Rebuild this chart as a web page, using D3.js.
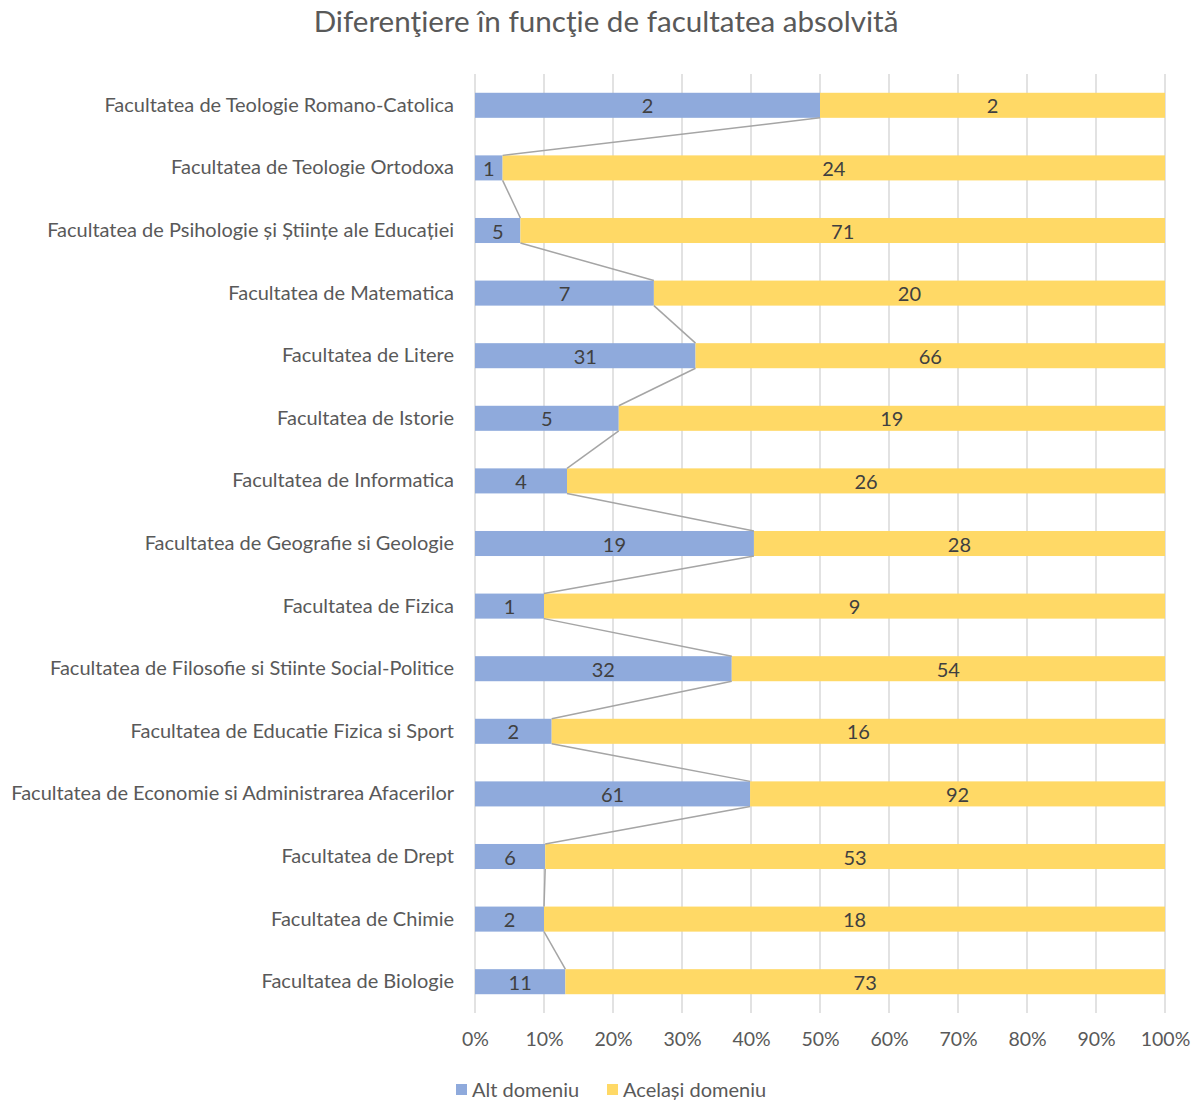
<!DOCTYPE html>
<html><head><meta charset="utf-8">
<script src="https://cdn.jsdelivr.net/npm/d3@7"></script>
<style>body{margin:0;background:#fff;} svg{display:block;}</style>
</head><body>
<svg id="chart" width="1196" height="1104"></svg>
<script>
const categories = [
  "Facultatea de Teologie Romano-Catolica",
  "Facultatea de Teologie Ortodoxa",
  "Facultatea de Psihologie și Științe ale Educației",
  "Facultatea de Matematica",
  "Facultatea de Litere",
  "Facultatea de Istorie",
  "Facultatea de Informatica",
  "Facultatea de Geografie si Geologie",
  "Facultatea de Fizica",
  "Facultatea de Filosofie si Stiinte Social-Politice",
  "Facultatea de Educatie Fizica si Sport",
  "Facultatea de Economie si Administrarea Afacerilor",
  "Facultatea de Drept",
  "Facultatea de Chimie",
  "Facultatea de Biologie"
];
const altDomeniu =     [2, 1, 5, 7, 31, 5, 4, 19, 1, 32, 2, 61, 6, 2, 11];
const acelasiDomeniu = [2, 24, 71, 20, 66, 19, 26, 28, 9, 54, 16, 92, 53, 18, 73];
const seriesNames = ["Alt domeniu", "Același domeniu"];
const tickValues = [0, 0.1, 0.2, 0.3, 0.4, 0.5, 0.6, 0.7, 0.8, 0.9, 1];
const title = "Diferenţiere în funcţie de facultatea absolvită";

const colors = ["#8faadc", "#ffd966"];
const font = "Lato, sans-serif";
const fs = 20;
const svg = d3.select("#chart");
const W = 1196, H = 1104;
const m = {left: 475, right: 31, top: 74, bottom: 91};

const x = d3.scaleLinear().domain([0, 1]).range([m.left, W - m.right]);
const y = d3.scaleBand().domain(categories).range([m.top, H - m.bottom]).paddingInner(0.6).paddingOuter(0.3);

const rows = categories.map((c, i) => {
  const tot = altDomeniu[i] + acelasiDomeniu[i];
  return {cat: c, a: altDomeniu[i], b: acelasiDomeniu[i], pa: altDomeniu[i] / tot};
});

// gridlines
svg.append("g").selectAll("line").data(tickValues).join("line")
  .attr("x1", d => x(d)).attr("x2", d => x(d))
  .attr("y1", m.top).attr("y2", H - m.bottom)
  .attr("stroke", "#d9d9d9").attr("stroke-width", 1.5);

// bars
const g = svg.append("g");
g.selectAll("rect.a").data(rows).join("rect")
  .attr("x", x(0)).attr("y", d => y(d.cat))
  .attr("width", d => x(d.pa) - x(0)).attr("height", y.bandwidth())
  .attr("fill", colors[0]);
g.selectAll("rect.b").data(rows).join("rect")
  .attr("x", d => x(d.pa)).attr("y", d => y(d.cat))
  .attr("width", d => x(1) - x(d.pa)).attr("height", y.bandwidth())
  .attr("fill", colors[1]);

// series lines
const segs = rows.slice(0, -1).map((d, i) => [d, rows[i + 1]]);
svg.append("g").selectAll("line").data(segs).join("line")
  .attr("x1", d => x(d[0].pa)).attr("y1", d => y(d[0].cat) + y.bandwidth())
  .attr("x2", d => x(d[1].pa)).attr("y2", d => y(d[1].cat))
  .attr("stroke", "#a5a5a5").attr("stroke-width", 1.5);

// data labels
const lab = svg.append("g").attr("font-family", font).attr("font-size", fs).attr("fill", "#404040")
  .attr("text-anchor", "middle").attr("dominant-baseline", "central");
lab.selectAll("text.a").data(rows).join("text")
  .attr("x", d => (x(0) + x(d.pa)) / 2).attr("y", d => y(d.cat) + y.bandwidth() / 2)
  .text(d => d.a);
lab.selectAll("text.b").data(rows).join("text")
  .attr("x", d => (x(d.pa) + x(1)) / 2).attr("y", d => y(d.cat) + y.bandwidth() / 2)
  .text(d => d.b);

// y axis labels
const yAxis = d3.axisLeft(y).tickSize(0).tickPadding(21);
const ya = svg.append("g").attr("transform", `translate(${m.left},0)`).call(yAxis);
ya.select(".domain").remove();
ya.selectAll("text").attr("font-family", font).attr("font-size", fs).attr("fill", "#595959");

// x axis
const xAxis = d3.axisBottom(x).tickValues(tickValues).tickFormat(d3.format(".0%")).tickSize(0).tickPadding(19);
const xa = svg.append("g").attr("transform", `translate(0,${H - m.bottom})`).call(xAxis);
xa.select(".domain").remove();
xa.selectAll("text").attr("font-family", font).attr("font-size", 19.5).attr("fill", "#595959");

// title
svg.append("text").attr("x", 606).attr("y", 32).attr("text-anchor", "middle")
  .attr("font-family", font).attr("font-size", 29.6).attr("fill", "#595959").text(title);

// legend
const leg = svg.append("g").attr("font-family", font).attr("font-size", fs).attr("fill", "#595959");
const legX = [456, 607];
seriesNames.forEach((s, i) => {
  leg.append("rect").attr("x", legX[i]).attr("y", 1084).attr("width", 11).attr("height", 11).attr("fill", colors[i]);
  leg.append("text").attr("x", legX[i] + 16).attr("y", 1097).text(s);
});
</script>
</body></html>
